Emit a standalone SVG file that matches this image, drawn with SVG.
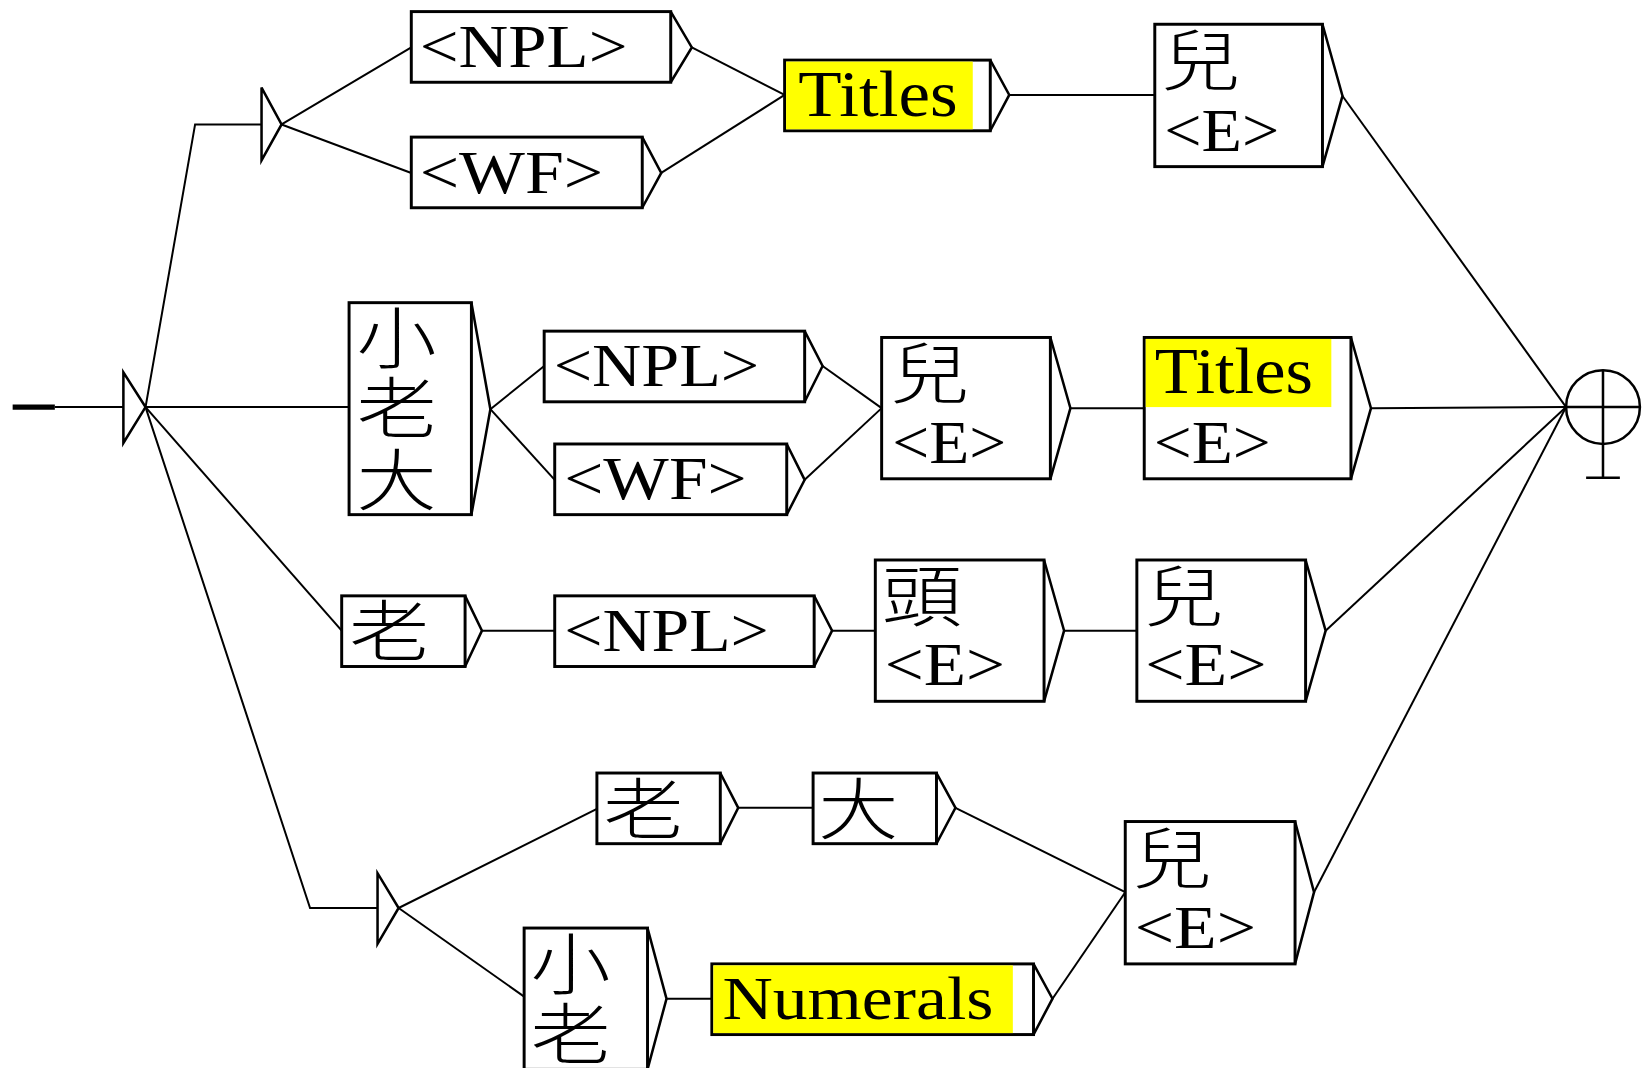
<svg xmlns="http://www.w3.org/2000/svg" width="1651" height="1068" viewBox="0 0 1651 1068">
<style>
.bx{fill:#fff;stroke:#000;stroke-width:2.8}
.hl{fill:#ffff00;stroke:none}
.ch{fill:none;stroke:#000;stroke-width:2.4;stroke-linejoin:miter}
.cn{fill:none;stroke:#000;stroke-width:1.9}
.lt{font-family:"Liberation Serif","Times New Roman",serif;font-size:58px;fill:#000}
.tt{font-family:"Liberation Serif","Times New Roman",serif;font-size:62px;fill:#000}
.cj{font-family:"Noto Sans CJK TC","Noto Sans CJK SC",sans-serif;font-size:64px;font-weight:300;fill:#000}
</style>
<rect width="1651" height="1068" fill="#fff"/>
<g transform="scale(1.0546)">
<g id="connectors">
<line x1="12" y1="386" x2="52" y2="386" stroke="#000" stroke-width="5"/>
<polyline class="cn" points="52,386 117,386"/>
<polyline class="cn" points="138,386 185,118 248,118"/>
<polyline class="cn" points="138,386 331,386"/>
<polyline class="cn" points="138,386 324,598"/>
<polyline class="cn" points="138,386 294,861 358,861"/>
<polyline class="cn" points="267,118 390,45"/>
<polyline class="cn" points="267,118 390,164"/>
<polyline class="cn" points="656,45 744,90"/>
<polyline class="cn" points="627,164 744,90"/>
<polyline class="cn" points="957,90 1095,90"/>
<polyline class="cn" points="1273,91 1485,386"/>
<polyline class="cn" points="465,388 516,347"/>
<polyline class="cn" points="465,388 526,455"/>
<polyline class="cn" points="780,347 836,387"/>
<polyline class="cn" points="763,455 836,387"/>
<polyline class="cn" points="1015,387 1085,387"/>
<polyline class="cn" points="1300,387 1485,386"/>
<polyline class="cn" points="457,598 526,598"/>
<polyline class="cn" points="789,598 830,598"/>
<polyline class="cn" points="1009,598 1078,598"/>
<polyline class="cn" points="1257,598 1485,386"/>
<polyline class="cn" points="378,861 566,767"/>
<polyline class="cn" points="378,861 497,945"/>
<polyline class="cn" points="700,766 771,766"/>
<polyline class="cn" points="906,766 1067,846"/>
<polyline class="cn" points="632,947 675,947"/>
<polyline class="cn" points="998,947 1067,846"/>
<polyline class="cn" points="1246,846 1485,386"/>
</g>

<g id="start">
<path class="ch" d="M117,353 L117,420 L138,386 Z"/>
</g>
<g id="split1">
<path class="ch" d="M248,83 L248,152 L267,118 Z"/>
</g>
<g id="split2">
<path class="ch" d="M358,828 L358,895 L378,861 Z"/>
</g>

<g id="n-npl1">
<rect class="bx" x="390" y="11" width="246" height="67"/>
<path class="ch" d="M636,11 L656,45 L636,78"/>
<text class="lt" x="398" y="64" textLength="197" lengthAdjust="spacingAndGlyphs">&lt;NPL&gt;</text>
</g>
<g id="n-wf1">
<rect class="bx" x="390" y="130" width="219" height="67"/>
<path class="ch" d="M609,130 L627,164 L609,197"/>
<text class="lt" x="398" y="183" textLength="174" lengthAdjust="spacingAndGlyphs">&lt;WF&gt;</text>
</g>
<g id="n-titles1">
<rect class="bx" x="744" y="57" width="195" height="67"/>
<rect class="hl" x="745.4" y="58.4" width="177" height="64.2"/>
<path class="ch" d="M939,57 L957,90 L939,124"/>
<text class="tt" x="757" y="110" textLength="151" lengthAdjust="spacingAndGlyphs">Titles</text>
</g>
<g id="n-er1">
<rect class="bx" x="1095" y="23" width="159" height="135"/>
<path class="ch" d="M1254,23 L1273,91 L1254,158"/>
<text class="cj" x="1101" y="81" textLength="76" lengthAdjust="spacingAndGlyphs">兒</text>
<text class="lt" x="1104" y="143" textLength="109" lengthAdjust="spacingAndGlyphs">&lt;E&gt;</text>
</g>

<g id="n-xiaolaoda">
<rect class="bx" x="331" y="287" width="116" height="201"/>
<path class="ch" d="M447,287 L465,388 L447,488"/>
<text class="cj" x="338" y="344" textLength="76" lengthAdjust="spacingAndGlyphs">小</text>
<text class="cj" x="338" y="411" textLength="76" lengthAdjust="spacingAndGlyphs">老</text>
<text class="cj" x="338" y="479" textLength="76" lengthAdjust="spacingAndGlyphs">大</text>
</g>
<g id="n-npl2">
<rect class="bx" x="516" y="314" width="247" height="67"/>
<path class="ch" d="M763,314 L780,347 L763,381"/>
<text class="lt" x="525" y="366" textLength="195" lengthAdjust="spacingAndGlyphs">&lt;NPL&gt;</text>
</g>
<g id="n-wf2">
<rect class="bx" x="526" y="421" width="220" height="67"/>
<path class="ch" d="M746,421 L763,455 L746,488"/>
<text class="lt" x="535" y="473" textLength="173" lengthAdjust="spacingAndGlyphs">&lt;WF&gt;</text>
</g>
<g id="n-er2">
<rect class="bx" x="836" y="320" width="160" height="134"/>
<path class="ch" d="M996,320 L1015,387 L996,454"/>
<text class="cj" x="844" y="377" textLength="76" lengthAdjust="spacingAndGlyphs">兒</text>
<text class="lt" x="846" y="439" textLength="108" lengthAdjust="spacingAndGlyphs">&lt;E&gt;</text>
</g>
<g id="n-titles2">
<rect class="bx" x="1085" y="320" width="196" height="134"/>
<rect class="hl" x="1086.4" y="321.4" width="176" height="64.6"/>
<path class="ch" d="M1281,320 L1300,387 L1281,454"/>
<text class="tt" x="1095" y="373" textLength="150" lengthAdjust="spacingAndGlyphs">Titles</text>
<text class="lt" x="1094" y="439" textLength="111" lengthAdjust="spacingAndGlyphs">&lt;E&gt;</text>
</g>

<g id="n-lao3">
<rect class="bx" x="324" y="565" width="117" height="67"/>
<path class="ch" d="M441,565 L457,598 L441,632"/>
<text class="cj" x="331" y="622" textLength="76" lengthAdjust="spacingAndGlyphs">老</text>
</g>
<g id="n-npl3">
<rect class="bx" x="526" y="565" width="246" height="67"/>
<path class="ch" d="M772,565 L789,598 L772,632"/>
<text class="lt" x="535" y="617" textLength="194" lengthAdjust="spacingAndGlyphs">&lt;NPL&gt;</text>
</g>
<g id="n-tou">
<rect class="bx" x="830" y="531" width="160" height="134"/>
<path class="ch" d="M990,531 L1009,598 L990,665"/>
<text class="cj" x="836" y="589" textLength="76" lengthAdjust="spacingAndGlyphs">頭</text>
<text class="lt" x="839" y="650" textLength="114" lengthAdjust="spacingAndGlyphs">&lt;E&gt;</text>
</g>
<g id="n-er3">
<rect class="bx" x="1078" y="531" width="160" height="134"/>
<path class="ch" d="M1238,531 L1257,598 L1238,665"/>
<text class="cj" x="1085" y="589" textLength="76" lengthAdjust="spacingAndGlyphs">兒</text>
<text class="lt" x="1086" y="650" textLength="115" lengthAdjust="spacingAndGlyphs">&lt;E&gt;</text>
</g>

<g id="n-lao4">
<rect class="bx" x="566" y="733" width="117" height="67"/>
<path class="ch" d="M683,733 L700,766 L683,800"/>
<text class="cj" x="572" y="791" textLength="76" lengthAdjust="spacingAndGlyphs">老</text>
</g>
<g id="n-da">
<rect class="bx" x="771" y="733" width="117" height="67"/>
<path class="ch" d="M888,733 L906,766 L888,800"/>
<text class="cj" x="776" y="791" textLength="76" lengthAdjust="spacingAndGlyphs">大</text>
</g>
<g id="n-er4">
<rect class="bx" x="1067" y="779" width="161" height="135"/>
<path class="ch" d="M1228,779 L1246,846 L1228,914"/>
<text class="cj" x="1074" y="837" textLength="76" lengthAdjust="spacingAndGlyphs">兒</text>
<text class="lt" x="1076" y="899" textLength="115" lengthAdjust="spacingAndGlyphs">&lt;E&gt;</text>
</g>
<g id="n-xiaolao">
<rect class="bx" x="497" y="880" width="117" height="134"/>
<path class="ch" d="M614,880 L632,947 L614,1014"/>
<text class="cj" x="503" y="938" textLength="76" lengthAdjust="spacingAndGlyphs">小</text>
<text class="cj" x="503" y="1004" textLength="76" lengthAdjust="spacingAndGlyphs">老</text>
</g>
<g id="n-numerals">
<rect class="bx" x="675" y="914" width="305" height="67"/>
<rect class="hl" x="676.4" y="915.4" width="284" height="64.2"/>
<path class="ch" d="M980,914 L998,947 L980,981"/>
<text class="lt" x="685" y="966" textLength="257" lengthAdjust="spacingAndGlyphs">Numerals</text>
</g>

<g id="end">
<circle cx="1520" cy="386" r="35" fill="none" stroke="#000" stroke-width="2.4"/>
<line x1="1485" y1="386" x2="1555" y2="386" stroke="#000" stroke-width="2.4"/>
<line x1="1520" y1="351" x2="1520" y2="453" stroke="#000" stroke-width="2.4"/>
<line x1="1504" y1="453" x2="1536" y2="453" stroke="#000" stroke-width="2.4"/>
</g>
</g>
</svg>
